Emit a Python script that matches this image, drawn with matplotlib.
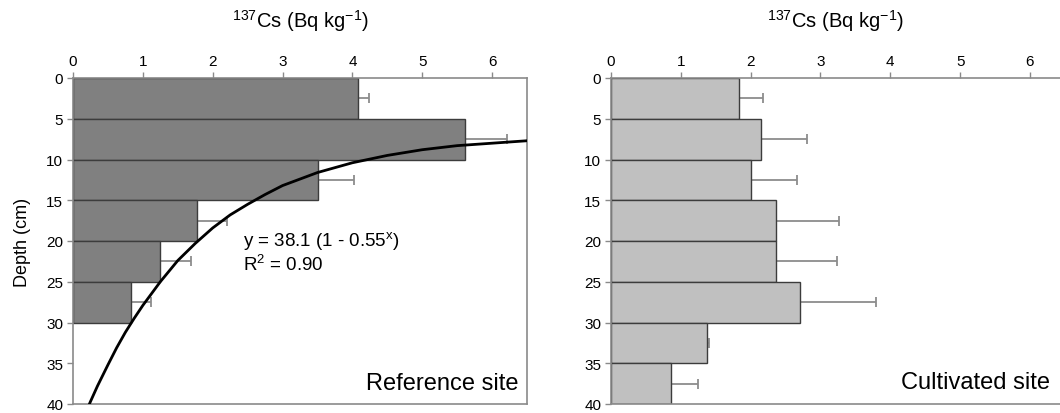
import matplotlib
matplotlib.use("Agg")
import matplotlib.pyplot as plt

plt.rcParams['font.family'] = ['Liberation Sans', 'DejaVu Sans']
plt.rcParams['mathtext.fontset'] = 'custom'
plt.rcParams['mathtext.rm'] = 'Liberation Sans'
plt.rcParams['mathtext.it'] = 'Liberation Sans:italic'

# depth layers (top of each 5 cm slice)
depth_top_ref = [0, 5, 10, 15, 20, 25]
cs_ref = [4.08, 5.61, 3.51, 1.78, 1.24, 0.83]
err_ref = [0.16, 0.60, 0.51, 0.43, 0.45, 0.29]

depth_top_cult = [0, 5, 10, 15, 20, 25, 30, 35]
cs_cult = [1.83, 2.15, 2.01, 2.37, 2.37, 2.70, 1.38, 0.86]
err_cult = [0.35, 0.65, 0.66, 0.89, 0.87, 1.10, 0.02, 0.39]

# fitted curve (Cs value, depth)
fit_cs = [0.20, 0.25, 0.35, 0.50, 0.625, 0.75, 0.875, 1.00, 1.25, 1.50, 1.75,
          2.00, 2.25, 2.50, 2.75, 3.00, 3.50, 4.00, 4.50, 5.00, 5.50, 6.00, 6.50, 6.70]
fit_depth = [40.7, 39.7, 37.8, 35.2, 33.1, 31.2, 29.5, 27.9, 25.0, 22.4, 20.3,
             18.4, 16.8, 15.5, 14.3, 13.2, 11.6, 10.4, 9.5, 8.8, 8.3, 8.0, 7.7, 7.6]

depth_ticks = [0, 5, 10, 15, 20, 25, 30, 35, 40]
cs_ticks = [0, 1, 2, 3, 4, 5, 6]

W, H = 1060, 414
fig = plt.figure(figsize=(W / 100, H / 100), dpi=100)
ax1 = fig.add_axes([73 / W, 1 - 405 / H, 454 / W, 326 / H])
ax2 = fig.add_axes([611 / W, 1 - 405 / H, 449 / W, 326 / H])

spine_col = '#8a8a8a'


def style(ax, xmax):
    ax.set_xlim(0, xmax)
    ax.set_ylim(40, 0)
    ax.set_xticks(cs_ticks)
    ax.set_yticks(depth_ticks)
    ax.xaxis.tick_top()
    ax.tick_params(axis='both', direction='out', length=4, width=1,
                   color=spine_col, labelsize=11, pad=3)
    for s in ax.spines.values():
        s.set_color(spine_col)
        s.set_linewidth(1.2)
    ax.text(0.5, 1 + 58 / 326, r'$^{137}$Cs (Bq kg$^{-1}$)', transform=ax.transAxes,
            ha='center', va='center', fontsize=14.5)


def bars(ax, tops, vals, errs, fill):
    centers = [t + 2.5 for t in tops]
    ax.barh(centers, vals, height=5, color=fill, edgecolor='#3c3c3c', linewidth=1,
            zorder=2)
    ax.errorbar(vals, centers, xerr=[[0] * len(errs), errs], fmt='none',
                ecolor='#8c8c8c', elinewidth=1.3, capsize=3.5, capthick=1.3, zorder=1)


bars(ax1, depth_top_ref, cs_ref, err_ref, '#808080')
ax1.plot(fit_cs, fit_depth, color='black', lw=2, zorder=3)
style(ax1, 6.5)
ax1.set_ylabel('Depth (cm)', fontsize=13, labelpad=11)
ax1.text(2.44, 19.9, r'y = 38.1 (1 - 0.55$^{\mathrm{x}}$)', fontsize=13.5, va='center')
ax1.text(2.44, 22.8, r'R$^{2}$ = 0.90', fontsize=13.5, va='center')
ax1.text(0.982, 0.064, 'Reference site', transform=ax1.transAxes, ha='right',
         va='center', fontsize=17)

bars(ax2, depth_top_cult, cs_cult, err_cult, '#c0c0c0')
style(ax2, 6.43)
ax2.spines['right'].set_visible(False)
ax2.text(0.978, 0.067, 'Cultivated site', transform=ax2.transAxes, ha='right',
         va='center', fontsize=17)

fig.savefig('out.png', dpi=100)
